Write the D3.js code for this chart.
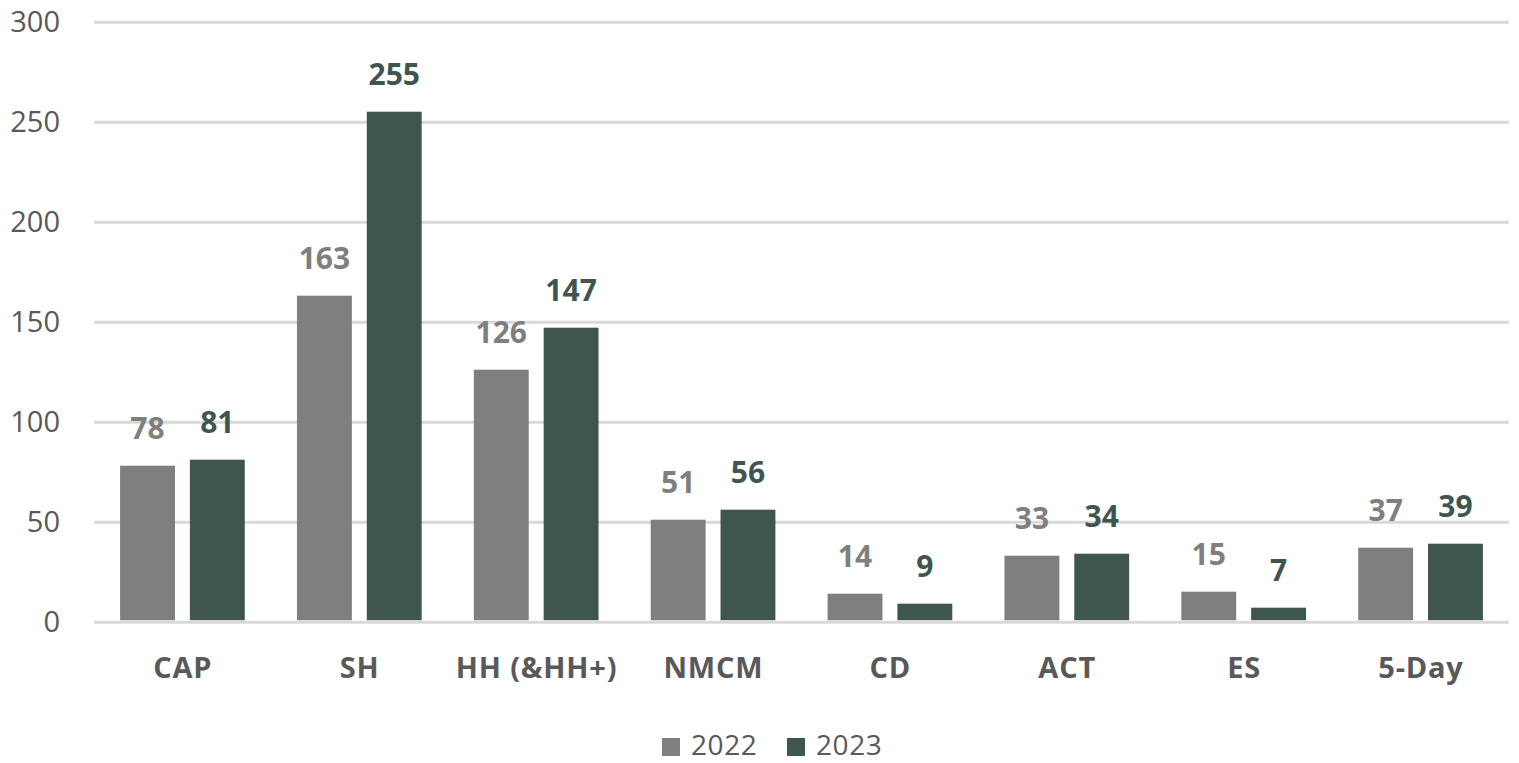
<!DOCTYPE html>
<html>
<head>
<meta charset="utf-8">
<script src="https://cdn.jsdelivr.net/npm/d3@7"></script>
<style>
  body { margin: 0; background: #fff; }
  text { font-family: "Open Sans", "Noto Sans", sans-serif; }
</style>
</head>
<body>
<script>
// chart data
const categories = ['CAP', 'SH', 'HH (&HH+)', 'NMCM', 'CD', 'ACT', 'ES', '5-Day'];
const years = ['2022', '2023'];
const values2022 = [78, 163, 126, 51, 14, 33, 15, 37];
const values2023 = [81, 255, 147, 56, 9, 34, 7, 39];
const yTicks = [0, 50, 100, 150, 200, 250, 300];

const colors = { '2022': '#7f7f7f', '2023': '#3f5550' };
const labelColors = { '2022': '#7f7f7f', '2023': '#3f5550' };

const w = 1519, h = 763;
const plotLeft = 94, plotRight = 1509, plotTop = 21.7, plotBottom = 621.7;

const data = categories.map((c, i) => ({ cat: c, '2022': values2022[i], '2023': values2023[i] }));

const svg = d3.select('body').append('svg')
  .attr('width', w)
  .attr('height', h);

const x0 = d3.scaleBand()
  .domain(categories)
  .range([plotLeft, plotRight])
  .paddingInner(0.295)
  .paddingOuter(0.1475);

const x1 = d3.scaleBand()
  .domain(years)
  .range([0, x0.bandwidth()])
  .paddingInner(0.214);

const y = d3.scaleLinear()
  .domain([0, 300])
  .range([plotBottom, plotTop]);

// gridlines
const yAxis = d3.axisLeft(y)
  .tickValues(yTicks)
  .tickSize(-(plotRight - plotLeft))
  .tickPadding(34);

const gy = svg.append('g')
  .attr('transform', 'translate(' + plotLeft + ',0)')
  .call(yAxis);
gy.select('.domain').remove();
gy.selectAll('line').attr('stroke', '#d9d9d9').attr('stroke-width', 3);
gy.selectAll('text')
  .attr('fill', '#595959')
  .style('font-size', '29px')
  .attr('dy', '0.35em');

// bars
const groups = svg.selectAll('.group')
  .data(data)
  .enter()
  .append('g')
  .attr('class', 'group')
  .attr('transform', d => 'translate(' + x0(d.cat) + ',0)');

groups.selectAll('rect')
  .data(d => years.map(k => ({ key: k, value: d[k] })))
  .enter()
  .append('rect')
  .attr('x', d => x1(d.key))
  .attr('y', d => y(d.value))
  .attr('width', x1.bandwidth())
  .attr('height', d => y(0) - y(d.value) - 1.5)
  .attr('fill', d => colors[d.key]);

groups.selectAll('.val')
  .data(d => years.map(k => ({ key: k, value: d[k] })))
  .enter()
  .append('text')
  .attr('class', 'val')
  .attr('x', d => x1(d.key) + x1.bandwidth() / 2)
  .attr('y', d => y(d.value) - 27)
  .attr('text-anchor', 'middle')
  .attr('fill', d => labelColors[d.key])
  .style('font-size', '30px')
  .style('font-weight', 'bold')
  .text(d => d.value);

// category labels
svg.append('g')
  .selectAll('text')
  .data(categories)
  .enter()
  .append('text')
  .attr('x', d => x0(d) + x0.bandwidth() / 2 + 0.4)
  .attr('y', 678)
  .attr('text-anchor', 'middle')
  .attr('fill', '#595959')
  .style('font-size', '29px')
  .style('letter-spacing', '0.8px')
  .style('font-weight', 'bold')
  .text(d => d);

// legend
const legendX = [662, 787];
const legend = svg.append('g');
years.forEach((k, i) => {
  legend.append('rect')
    .attr('x', legendX[i])
    .attr('y', 738)
    .attr('width', 18)
    .attr('height', 18)
    .attr('fill', colors[k]);
  legend.append('text')
    .attr('x', legendX[i] + 29)
    .attr('y', 755)
    .attr('fill', '#595959')
    .style('font-size', '28px')
    .style('letter-spacing', '0.6px')
    .text(k);
});
</script>
</body>
</html>
